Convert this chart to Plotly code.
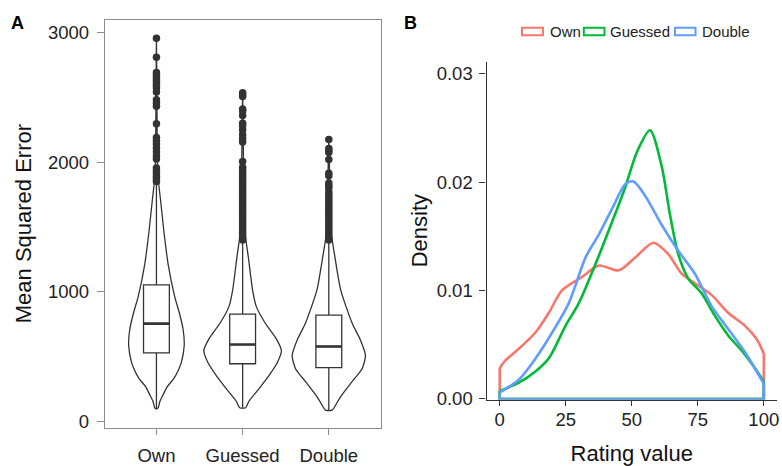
import plotly.graph_objects as go

# ---------------- data: panel A ----------------
categories = ["Own", "Guessed", "Double"]
cat_pos = [1, 2, 3]

# box statistics (Mean Squared Error)
q1 = [530, 447, 417]
median = [756, 595, 580]
q3 = [1055, 829, 821]
lower_whisker = [98, 108, 90]
upper_whisker = [1840, 1390, 1390]

# outliers
own_outliers = [2955, 2808, 2690, 2670, 2650, 2630, 2610, 2590, 2570, 2540, 2480,
                2455, 2430, 2295, 2190, 2165, 2140, 2110, 2080, 2050, 2025, 1955,
                1930, 1910, 1890, 1870, 1850]
guessed_outliers = [2535, 2520, 2505, 2410, 2395, 2360, 2300, 2280, 2250, 2210, 2180,
                    2155, 2005, 1960, 1940, 1920, 1900, 1880, 1860, 1840, 1820, 1800,
                    1780, 1760, 1740, 1720, 1700, 1680, 1660, 1640, 1620, 1600, 1580,
                    1560, 1540, 1520, 1500, 1480, 1460, 1440, 1420, 1400]
double_outliers = [2175, 2105, 2090, 2075, 2020, 1915, 1895, 1840, 1820, 1800, 1770,
                   1750, 1730, 1710, 1690, 1670, 1650, 1630, 1610, 1590, 1570, 1550,
                   1530, 1510, 1490, 1470, 1450, 1430, 1410, 1400]
outliers = [own_outliers, guessed_outliers, double_outliers]

# violin outlines: value levels and relative width (1 = widest violin)
own_violin_y = [98, 108, 158, 209, 271, 334, 399, 460, 585, 711, 836, 962, 1213,
                1464, 1716, 1891, 2200, 2600, 2955]
own_violin_w = [0.0, 0.044, 0.09, 0.173, 0.28, 0.451, 0.567, 0.644, 0.716, 0.688,
                0.593, 0.472, 0.302, 0.193, 0.103, 0.039, 0.018, 0.01, 0.0]
guessed_violin_y = [108, 158, 258, 359, 460, 548, 635, 761, 887, 1012, 1264, 1464,
                    1800, 2200, 2535]
guessed_violin_w = [0.077, 0.162, 0.43, 0.688, 0.902, 1.0, 0.876, 0.58, 0.353, 0.258,
                    0.149, 0.059, 0.03, 0.015, 0.0]
double_violin_y = [90, 158, 209, 309, 409, 510, 635, 761, 1012, 1264, 1464, 1800, 2175]
double_violin_w = [0.085, 0.232, 0.343, 0.6, 0.858, 0.946, 0.807, 0.6, 0.309, 0.16,
                   0.059, 0.03, 0.0]
violins = [(own_violin_y, own_violin_w), (guessed_violin_y, guessed_violin_w),
           (double_violin_y, double_violin_w)]

# ---------------- data: panel B ----------------
series_names = ["Own", "Guessed", "Double"]
own_x = [0, 2.3, 7.3, 13.6, 18.6, 23.7, 31.2, 37.5, 45.1, 51.4, 58.2, 63.8, 68.9,
         73.9, 80.2, 86.5, 92.8, 97.2, 100]
own_d = [0.00285, 0.0036, 0.00465, 0.00615, 0.00795, 0.01005, 0.01126, 0.0123,
         0.01186, 0.01306, 0.01441, 0.01336, 0.01155, 0.01066, 0.0096, 0.00795,
         0.00676, 0.00555, 0.0042]
guessed_x = [0, 7.3, 13.6, 18.6, 24.9, 30, 36.3, 42.6, 47.5, 52, 56.9, 61.3, 64.5,
             67.6, 71.4, 76.4, 81.5, 86.5, 91.5, 96.6, 100]
guessed_d = [0.00075, 0.0015, 0.00255, 0.00375, 0.00675, 0.00886, 0.01246, 0.01636,
             0.0195, 0.0228, 0.02477, 0.02147, 0.01696, 0.01336, 0.0111, 0.00976,
             0.00766, 0.00586, 0.0045, 0.00285, 0.0016]
double_x = [0, 7.3, 13.6, 19.9, 26.2, 32.5, 37.5, 42.6, 47.6, 50.6, 55, 61.3, 67.6,
            73.9, 80.2, 86.5, 92.8, 100]
double_d = [0.0006, 0.0018, 0.00375, 0.00615, 0.00886, 0.01306, 0.01516, 0.01757,
            0.01982, 0.02005, 0.01877, 0.01606, 0.01366, 0.01155, 0.00856, 0.00645,
            0.00435, 0.0014]
density_series = [(own_x, own_d), (guessed_x, guessed_d), (double_x, double_d)]
colors = ["#F8766D", "#00BA38", "#619CFF"]

x_ticks_b = [0, 25, 50, 75, 100]
y_ticks_b = [0.0, 0.01, 0.02, 0.03]
y_ticklabels_b = ["0.00", "0.01", "0.02", "0.03"]
y_ticks_a = [0, 1000, 2000, 3000]

# ---------------- figure ----------------
FONT = "Liberation Sans, Arial, Helvetica, sans-serif"
INK = "#333333"
VIOLIN_HALF = 0.45
BOX_W = 0.3
TICK_SIZE = 18.5

fig = go.Figure()

# violins
for c, (vy, vw) in zip(cat_pos, violins):
    xs = [c + VIOLIN_HALF * w for w in vw] + [c - VIOLIN_HALF * w for w in reversed(vw)]
    ys = list(vy) + list(reversed(vy))
    xs.append(xs[0]); ys.append(ys[0])
    fig.add_trace(go.Scatter(x=xs, y=ys, mode="lines",
                             line=dict(color=INK, width=1.3, shape="spline", smoothing=0.6),
                             fill="toself", fillcolor="rgba(255,255,255,0)",
                             showlegend=False, hoverinfo="skip",
                             xaxis="x", yaxis="y"))

# boxes
for i, c in enumerate(cat_pos):
    fig.add_trace(go.Box(x=[c], q1=[q1[i]], median=[median[i]], q3=[q3[i]],
                         lowerfence=[lower_whisker[i]], upperfence=[upper_whisker[i]],
                         width=BOX_W, whiskerwidth=0, fillcolor="white",
                         line=dict(color=INK, width=1.3), boxpoints=False,
                         showlegend=False, xaxis="x", yaxis="y"))
    # thicker median line
    fig.add_trace(go.Scatter(x=[c - BOX_W / 2, c + BOX_W / 2], y=[median[i], median[i]],
                             mode="lines", line=dict(color=INK, width=2.6),
                             showlegend=False, hoverinfo="skip", xaxis="x", yaxis="y"))
    fig.add_trace(go.Scatter(x=[c] * len(outliers[i]), y=outliers[i], mode="markers",
                             marker=dict(color=INK, size=7.5),
                             showlegend=False, xaxis="x", yaxis="y"))

# densities (closed outlines like geom_density)
for (dx, dd), col in zip(density_series, colors):
    fig.add_trace(go.Scatter(x=dx, y=dd, mode="lines",
                             line=dict(color=col, width=2.6, shape="spline", smoothing=0.8),
                             showlegend=False, xaxis="x2", yaxis="y2"))
    fig.add_trace(go.Scatter(x=[dx[-1], dx[-1], dx[0], dx[0]], y=[dd[-1], 0, 0, dd[0]],
                             mode="lines", line=dict(color=col, width=2.6),
                             showlegend=False, hoverinfo="skip", xaxis="x2", yaxis="y2"))

W, H = 782, 466
fig.update_layout(
    width=W, height=H,
    margin=dict(l=0, r=0, t=0, b=0),
    paper_bgcolor="white", plot_bgcolor="white",
    font=dict(family=FONT, color=INK),
    boxmode="overlay",
    showlegend=False,
    xaxis=dict(domain=[105 / W, 381.5 / W], range=[0.4, 3.6],
               tickvals=cat_pos, ticktext=categories,
               showgrid=False, zeroline=False,
               showline=True, mirror=True, linecolor="#8c8c8c", linewidth=1,
               ticks="outside", ticklen=6, tickcolor="#8c8c8c", tickwidth=1,
               ticklabelstandoff=5,
               tickfont=dict(size=TICK_SIZE, color="#222222")),
    yaxis=dict(domain=[1 - 437 / H, 1 - 20 / H], range=[-45, 3098],
               tickvals=y_ticks_a, showgrid=False, zeroline=False,
               showline=True, mirror=True, linecolor="#8c8c8c", linewidth=1,
               ticks="outside", ticklen=7, tickcolor="#8c8c8c", tickwidth=1,
               ticklabelstandoff=4,
               tickfont=dict(size=TICK_SIZE, color="#222222"),
               title=dict(text="Mean Squared Error", font=dict(size=22, color="#111111"),
                          standoff=10)),
    xaxis2=dict(domain=[487.8 / W, 779 / W], range=[-5, 105], anchor="y2",
                tickvals=x_ticks_b, showgrid=False, zeroline=False,
                showline=True, linecolor=INK, linewidth=1.3,
                ticks="outside", ticklen=5, tickcolor=INK, tickwidth=1.3,
                ticklabelstandoff=-2,
                tickfont=dict(size=TICK_SIZE, color="#222222"),
                title=dict(text="Rating value", font=dict(size=22, color="#111111"),
                           standoff=16)),
    yaxis2=dict(domain=[1 - 408.3 / H, 1 - 63 / H], range=[-0.00005, 0.0311], anchor="x2",
                tickvals=y_ticks_b, ticktext=y_ticklabels_b,
                showgrid=False, zeroline=False,
                showline=True, linecolor=INK, linewidth=1.3,
                ticks="outside", ticklen=6, tickcolor=INK, tickwidth=1.3,
                ticklabelstandoff=3,
                tickfont=dict(size=TICK_SIZE, color="#222222"),
                title=dict(text="Density", font=dict(size=22, color="#111111"),
                           standoff=2)),
)

# panel labels
fig.add_annotation(text="<b>A</b>", x=17.5 / W, y=1 - 23.5 / H, xref="paper", yref="paper",
                   showarrow=False, font=dict(size=18, color="black"),
                   xanchor="center", yanchor="middle")
fig.add_annotation(text="<b>B</b>", x=411.5 / W, y=1 - 23.5 / H, xref="paper", yref="paper",
                   showarrow=False, font=dict(size=18, color="black"),
                   xanchor="center", yanchor="middle")

# legend (ggplot-style outlined keys)
legend_keys = [(523.3, 544.3, 549), (585.3, 606.0, 610), (676.7, 697.3, 701.7)]
for (x0, x1, tx), name, col in zip(legend_keys, series_names, colors):
    fig.add_shape(type="rect", xref="paper", yref="paper",
                  x0=x0 / W, x1=x1 / W, y0=1 - 36 / H, y1=1 - 28.3 / H,
                  line=dict(color=col, width=2), fillcolor="white")
    fig.add_annotation(text=name, x=tx / W, y=1 - 32.5 / H, xref="paper", yref="paper",
                       showarrow=False, xanchor="left", yanchor="middle",
                       font=dict(size=15, color="#222222"))

# remove the browser's default page margin so the figure sits at the window origin
fig.write_html("out.html", config={"displayModeBar": False},
               post_script="document.body.style.margin='0';document.body.style.overflow='hidden';")
